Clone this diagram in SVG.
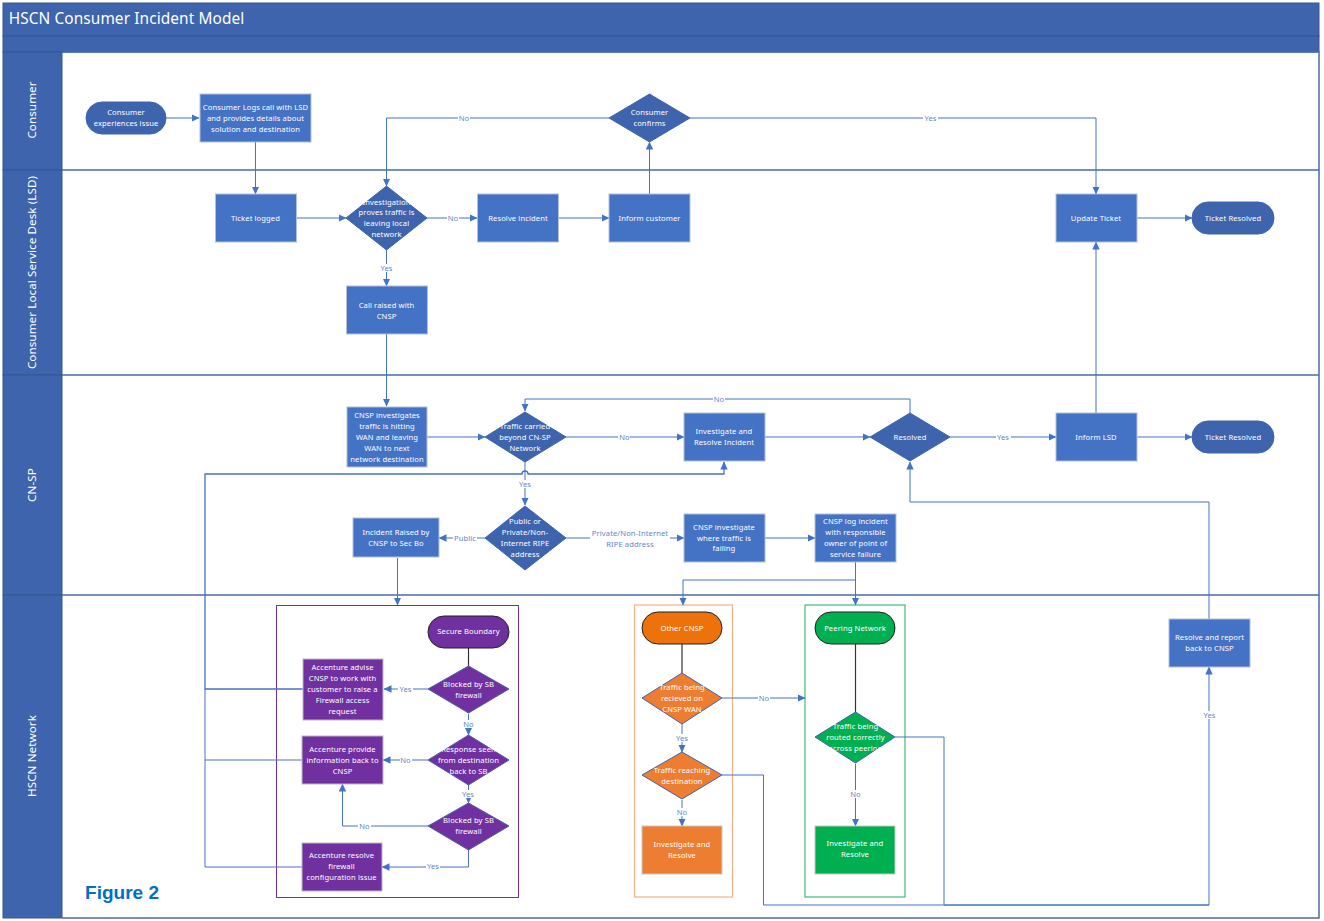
<svg xmlns="http://www.w3.org/2000/svg" width="1324" height="921" viewBox="0 0 1324 921">
<style>
text{font-family:"Noto Sans","Open Sans","Liberation Sans",sans-serif;font-size:7.6px;fill:#fff;text-anchor:middle;letter-spacing:.1px}
.hd{fill:#3e64ad;stroke:#35578f;stroke-width:1}
.ln{fill:none;stroke:#4472c4;stroke-width:1}
.lane{fill:none;stroke:#4a6ca8;stroke-width:1.5}
.bl{fill:#4472c4;stroke:#b4bfd4;stroke-width:1}
.dk{fill:#3e64ad;stroke:#3e64ad;stroke-width:1}
.pu{fill:#7030a0;stroke:#b9b9c0;stroke-width:1}
.pd{fill:#7030a0;stroke:#4a5ea8;stroke-width:1}
.or{fill:#ed7d31;stroke:#c8c8c8;stroke-width:1}
.od{fill:#ed7d31;stroke:#3e64ad;stroke-width:1}
.gr{fill:#00b050;stroke:#c8c8c8;stroke-width:1}
.gd{fill:#00b050;stroke:#3e64ad;stroke-width:1}
.lb{fill:#5f86cc}
.lane-t{font-size:11.6px}
.k{fill:none;stroke:#333;stroke-width:1.2}
</style>
<defs>
<marker id="a" markerWidth="8" markerHeight="8" refX="7.5" refY="4" orient="auto" markerUnits="userSpaceOnUse"><path d="M0 .3L8 4L0 7.7Z" fill="#4472c4"/></marker>
</defs>
<rect width="1324" height="921" fill="#fff"/>
<g id="frame">
<rect class="hd" x="3" y="3" width="1316" height="33"/>
<rect class="hd" x="3" y="36" width="1316" height="16"/>
<text x="126.500" y="24" style="font-size:15.400px">HSCN Consumer Incident Model</text>
<rect class="hd" x="3" y="52" width="59" height="118"/>
<rect class="hd" x="3" y="170" width="59" height="205"/>
<rect class="hd" x="3" y="375" width="59" height="220"/>
<rect class="hd" x="3" y="595" width="59" height="323"/>
<text class="lane-t" transform="translate(36,110) rotate(-90)">Consumer</text>
<text class="lane-t" transform="translate(36,272.500) rotate(-90)">Consumer Local Service Desk (LSD)</text>
<text class="lane-t" transform="translate(36,485) rotate(-90)">CN-SP</text>
<text class="lane-t" transform="translate(36,756) rotate(-90)">HSCN Network</text>
<path class="lane" d="M62 52H1319V918H62M62 170H1319M62 375H1319M62 595H1319"/>
</g>
<g id="containers">
<rect x="276.500" y="605.500" width="242" height="292" fill="none" stroke="#7030a0" stroke-width="1"/>
<rect x="634.500" y="605" width="98" height="292" fill="none" stroke="#f4b183" stroke-width="1.200"/>
<rect x="805" y="605" width="100" height="292" fill="none" stroke="#3fb97c" stroke-width="1.200"/>
</g>
<g id="connectors">
<path class="ln" marker-end="url(#a)" d="M166 118H199"/>
<path class="ln" marker-end="url(#a)" d="M255.500 142V194"/>
<path class="ln" marker-end="url(#a)" d="M296 218H346"/>
<path class="ln" marker-end="url(#a)" d="M609 118H386.500V186"/>
<path class="ln" marker-end="url(#a)" d="M690 118H1096V194"/>
<path class="ln" marker-end="url(#a)" d="M427 218H477"/>
<path class="ln" marker-end="url(#a)" d="M558 218H609"/>
<path class="ln" marker-end="url(#a)" d="M649.500 194V142"/>
<path class="ln" marker-end="url(#a)" d="M386.500 250V286"/>
<path class="ln" marker-end="url(#a)" d="M386.500 334V406"/>
<path class="ln" marker-end="url(#a)" d="M1136 218H1192"/>
<path class="ln" marker-end="url(#a)" d="M427 437H485"/>
<path class="ln" marker-end="url(#a)" d="M566 437H684"/>
<path class="ln" marker-end="url(#a)" d="M765 437H870"/>
<path class="ln" marker-end="url(#a)" d="M950 437H1056"/>
<path class="ln" marker-end="url(#a)" d="M1136 437H1192"/>
<path class="ln" marker-end="url(#a)" d="M1096 413V242"/>
<path class="ln" marker-end="url(#a)" d="M910 413V399H525V411"/>
<path class="ln" marker-end="url(#a)" d="M525 462V505"/>
<path class="ln" marker-end="url(#a)" d="M485 538H439"/>
<path class="ln" marker-end="url(#a)" d="M566 538H684"/>
<path class="ln" marker-end="url(#a)" d="M765 538H815"/>
<path class="ln" marker-end="url(#a)" d="M397.500 558V605"/>
<path class="ln" marker-end="url(#a)" d="M855.500 562V580H683V605"/>
<path class="ln" marker-end="url(#a)" d="M855.500 580V605"/>
<path class="ln" style="stroke-width:1.300" marker-end="url(#a)" d="M303 689H205V474H522A3 3 0 0 1 528 474H724V462"/>
<path class="ln" d="M303 760H205M302 867H205V689"/>
<path class="ln" marker-end="url(#a)" d="M428 689H384"/>
<path class="ln" marker-end="url(#a)" d="M468.500 714V735"/>
<path class="ln" marker-end="url(#a)" d="M428 760H383"/>
<path class="ln" marker-end="url(#a)" d="M468.500 785V803"/>
<path class="ln" marker-end="url(#a)" d="M428 826H342.500V784"/>
<path class="ln" marker-end="url(#a)" d="M468.500 850V867H382"/>
<path class="k" d="M468.500 648V666"/>
<path class="k" d="M682 644V673"/>
<path class="k" d="M855.500 644V712"/>
<path class="ln" marker-end="url(#a)" d="M722 698H805"/>
<path class="ln" marker-end="url(#a)" d="M682 724V752"/>
<path class="ln" marker-end="url(#a)" d="M682 800V826"/>
<path class="ln" marker-end="url(#a)" d="M855.500 764V826"/>
<path class="ln" d="M722 775H763.500V905H1209"/>
<path class="ln" marker-end="url(#a)" d="M895 737H944V905H1209V667"/>
<path class="ln" marker-end="url(#a)" d="M1209 619V502H910V462"/>
</g>
<g id="edge-labels">
<rect x="458" y="114" width="12" height="8" fill="#fff"/><text class="lb" x="464" y="121">No</text>
<rect x="923" y="114" width="15" height="8" fill="#fff"/><text class="lb" x="930.500" y="121">Yes</text>
<rect x="447" y="214" width="12" height="8" fill="#fff"/><text class="lb" x="453" y="221">No</text>
<rect x="379" y="264" width="15" height="8" fill="#fff"/><text class="lb" x="386.500" y="271">Yes</text>
<rect x="713" y="395" width="12" height="8" fill="#fff"/><text class="lb" x="719" y="402">No</text>
<rect x="618" y="433" width="12" height="8" fill="#fff"/><text class="lb" x="624.500" y="440">No</text>
<rect x="996" y="433" width="15" height="8" fill="#fff"/><text class="lb" x="1003" y="440">Yes</text>
<rect x="518" y="480" width="15" height="8" fill="#fff"/><text class="lb" x="525" y="487">Yes</text>
<rect x="453" y="534" width="24" height="8" fill="#fff"/><text class="lb" x="465" y="541">Public</text>
<rect x="590" y="528" width="80" height="20" fill="#fff"/><text class="lb" x="630" y="536">Private/Non-Internet</text><text class="lb" x="630" y="547">RIPE address</text>
<rect x="398" y="685" width="15" height="8" fill="#fff"/><text class="lb" x="405.500" y="692">Yes</text>
<rect x="462" y="720" width="13" height="8" fill="#fff"/><text class="lb" x="468.500" y="727">No</text>
<rect x="400" y="756" width="12" height="8" fill="#fff"/><text class="lb" x="405.500" y="763">No</text>
<rect x="461" y="790" width="15" height="8" fill="#fff"/><text class="lb" x="468" y="797">Yes</text>
<rect x="358" y="822" width="13" height="8" fill="#fff"/><text class="lb" x="364.500" y="829">No</text>
<rect x="426" y="862" width="14" height="8" fill="#fff"/><text class="lb" x="433" y="869">Yes</text>
<rect x="758" y="694" width="12" height="8" fill="#fff"/><text class="lb" x="764" y="701">No</text>
<rect x="675" y="734" width="14" height="8" fill="#fff"/><text class="lb" x="682" y="741">Yes</text>
<rect x="676" y="808" width="13" height="8" fill="#fff"/><text class="lb" x="682" y="815">No</text>
<rect x="849" y="790" width="13" height="8" fill="#fff"/><text class="lb" x="855.500" y="797">No</text>
<rect x="1202" y="711" width="15" height="8" fill="#fff"/><text class="lb" x="1209.500" y="718">Yes</text>
</g>
<g id="n1"><rect class="dk" x="86" y="102" width="80" height="32" rx="16"/><text x="126" y="115">Consumer</text><text x="126" y="126">experiences issue</text></g>
<g id="n2"><rect class="bl" x="200" y="94" width="111" height="48"/><text x="255.500" y="110">Consumer Logs call with LSD</text><text x="255.500" y="121">and provides details about</text><text x="255.500" y="132">solution and destination</text></g>
<g id="n3"><polygon class="dk" points="649.500,94 690,118 649.500,142 609,118"/><text x="649.500" y="115">Consumer</text><text x="649.500" y="126">confirms</text></g>
<g id="n4"><rect class="bl" x="215.500" y="194" width="81" height="48"/><text x="255.500" y="221">Ticket logged</text></g>
<g id="n5"><polygon class="dk" points="386.500,186 427,218 386.500,250 346,218"/><text x="386.500" y="205">Investigation</text><text x="386.500" y="215">proves traffic is</text><text x="386.500" y="226">leaving local</text><text x="386.500" y="237">network</text></g>
<g id="n6"><rect class="bl" x="477.500" y="194" width="81" height="48"/><text x="518" y="221">Resolve incident</text></g>
<g id="n7"><rect class="bl" x="609" y="194" width="81" height="48"/><text x="649.500" y="221">Inform customer</text></g>
<g id="n8"><rect class="bl" x="1056" y="194" width="81" height="48"/><text x="1096" y="221">Update Ticket</text></g>
<g id="n9"><rect class="dk" x="1192" y="202" width="82" height="32" rx="16"/><text x="1233" y="221">Ticket Resolved</text></g>
<g id="n10"><rect class="bl" x="346.500" y="286" width="81" height="48"/><text x="386.500" y="308">Call raised with</text><text x="386.500" y="319">CNSP</text></g>
<g id="n11"><rect class="bl" x="347" y="407" width="80" height="60"/><text x="387" y="418">CNSP investigates</text><text x="387" y="429">traffic is hitting</text><text x="387" y="440">WAN  and leaving</text><text x="387" y="451">WAN to next</text><text x="387" y="462">network destination</text></g>
<g id="n12"><polygon class="dk" points="525,412 566,437 525,462 485,437"/><text x="525" y="429">Traffic carried</text><text x="525" y="440">beyond CN-SP</text><text x="525" y="451">Network</text></g>
<g id="n13"><rect class="bl" x="684" y="413" width="81" height="48"/><text x="724" y="434">Investigate and</text><text x="724" y="445">Resolve Incident</text></g>
<g id="n14"><polygon class="dk" points="910,413 950,437 910,461 870,437"/><text x="910" y="440">Resolved</text></g>
<g id="n15"><rect class="bl" x="1056" y="413" width="81" height="48"/><text x="1096" y="440">Inform LSD</text></g>
<g id="n16"><rect class="dk" x="1192" y="421" width="82" height="32" rx="16"/><text x="1233" y="440">Ticket Resolved</text></g>
<g id="n17"><polygon class="dk" points="525,506 566,538 525,570 485,538"/><text x="525" y="524">Public or</text><text x="525" y="535">Private/Non-</text><text x="525" y="546">Internet RIPE</text><text x="525" y="557">address</text></g>
<g id="n18"><rect class="bl" x="353" y="518" width="86" height="39"/><text x="396" y="535">Incident Raised by</text><text x="396" y="546">CNSP to Sec Bo</text></g>
<g id="n19"><rect class="bl" x="684" y="514" width="81" height="48"/><text x="724" y="530">CNSP investigate</text><text x="724" y="541">where traffic is</text><text x="724" y="551">failing</text></g>
<g id="n20"><rect class="bl" x="815" y="514" width="81" height="48"/><text x="855.500" y="524">CNSP log incident</text><text x="855.500" y="535">with responsible</text><text x="855.500" y="546">owner of point of</text><text x="855.500" y="557">service failure</text></g>
<g id="n21"><rect x="428" y="616" width="81" height="32" rx="16" fill="#7030a0" stroke="#222" stroke-width="1"/><text x="468.500" y="634">Secure Boundary</text></g>
<g id="n22"><rect class="pu" x="303" y="659" width="80" height="61"/><text x="342.500" y="670">Accenture advise</text><text x="342.500" y="681">CNSP to work with</text><text x="342.500" y="692">customer to raise a</text><text x="342.500" y="703">Firewall access</text><text x="342.500" y="714">request</text></g>
<g id="n23"><polygon class="pd" points="468.500,666 509,689 468.500,713 428,689"/><text x="468.500" y="687">Blocked by SB</text><text x="468.500" y="698">firewall</text></g>
<g id="n24"><rect class="pu" x="302" y="736" width="81" height="48"/><text x="342.500" y="752">Accenture provide</text><text x="342.500" y="763">information back to</text><text x="342.500" y="774">CNSP</text></g>
<g id="n25"><polygon class="pd" points="468.500,735 509,760 468.500,785 428,760"/><text x="468.500" y="752">Response seen</text><text x="468.500" y="763">from destination</text><text x="468.500" y="774">back to SB</text></g>
<g id="n26"><polygon class="pd" points="468.500,803 509,826 468.500,850 428,826"/><text x="468.500" y="823">Blocked by SB</text><text x="468.500" y="834">firewall</text></g>
<g id="n27"><rect class="pu" x="302" y="843" width="80" height="48"/><text x="341.500" y="858">Accenture resolve</text><text x="341.500" y="869">firewall</text><text x="341.500" y="880">configuration issue</text></g>
<g id="n28"><rect x="642" y="612" width="80" height="32" rx="16" fill="#ed720c" stroke="#222" stroke-width="1"/><text x="682" y="631">Other CNSP</text></g>
<g id="n29"><polygon class="od" points="682,673 722,698 682,724 642,698"/><text x="682" y="690">Traffic being</text><text x="682" y="701">recieved on</text><text x="682" y="712">CNSP WAN</text></g>
<g id="n30"><polygon class="od" points="682,752 722,775 682,799 642,775"/><text x="682" y="773">Traffic reaching</text><text x="682" y="784">destination</text></g>
<g id="n31"><rect class="or" x="642" y="826" width="80" height="48"/><text x="682" y="847">Investigate and</text><text x="682" y="858">Resolve</text></g>
<g id="n32"><rect x="815" y="612" width="80" height="32" rx="16" fill="#00b050" stroke="#222" stroke-width="1"/><text x="855" y="631">Peering Network</text></g>
<g id="n33"><polygon class="gd" points="855.500,712 895,737 855.500,763 815,737"/><text x="855.500" y="729">Traffic being</text><text x="855.500" y="740">routed correctly</text><text x="855.500" y="751">across peering</text></g>
<g id="n34"><rect class="gr" x="815" y="826" width="80" height="48"/><text x="855" y="846">Investigate and</text><text x="855" y="857">Resolve</text></g>
<g id="n35"><rect class="bl" x="1169" y="619" width="81" height="48"/><text x="1209.500" y="640">Resolve and report</text><text x="1209.500" y="651">back to CNSP</text></g>
<text x="122" y="899" style="font-family:'Liberation Sans',Arial,sans-serif;font-size:19px;font-weight:700;fill:#0070c0;letter-spacing:0">Figure 2</text>
</svg>
